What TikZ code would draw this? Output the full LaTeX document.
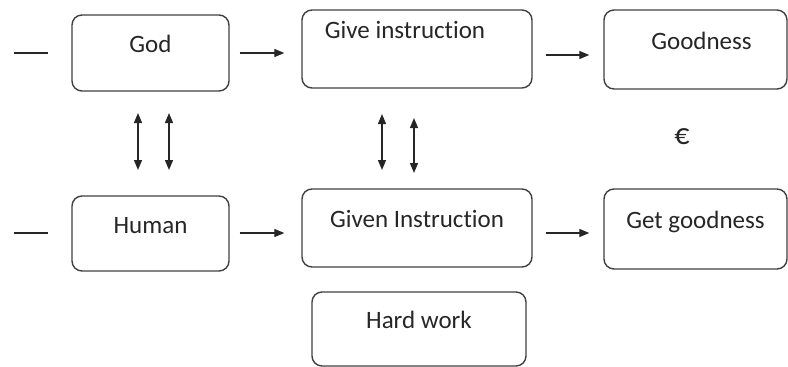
\documentclass[tikz,border=0pt]{standalone}
\usepackage{fontspec}
\setmainfont{Carlito}[Ligatures=NoCommon]
\usetikzlibrary{arrows.meta}

\begin{document}
\begin{tikzpicture}[x=1pt, y=-1pt,
    box/.style={draw=black!75, line width=1.4pt, rounded corners=10pt, text=black!85,
        font=\fontsize{25}{30}\selectfont, text height=18pt, text depth=19pt},
    link/.style={draw=black!85, line width=1.3pt, -{Triangle[length=10pt,width=8pt]}},
    both/.style={draw=black!85, line width=1.3pt,
        {Triangle[length=10pt,width=8pt]}-{Triangle[length=10pt,width=8pt]}}]

    \useasboundingbox (0,0) rectangle (788,367);

    % top row
    \node[box, minimum width=157pt, minimum height=76pt] (god) at (150.5,53) {God};
    \node[box, minimum width=230pt, minimum height=78pt, text depth=40pt] (give) at (417,49) {Give instruction\hspace*{24pt}};
    \node[box, minimum width=183pt, minimum height=79pt] (goodness) at (695.5,49.5) {\hspace*{12pt}Goodness};

    % bottom row
    \node[box, minimum width=157pt, minimum height=75pt] (human) at (150.5,233.5) {Human};
    \node[box, minimum width=230pt, minimum height=78pt] (given) at (417,228) {Given Instruction};
    \node[box, minimum width=183pt, minimum height=80pt] (getgood) at (695.5,229) {Get goodness};
    \node[box, minimum width=214pt, minimum height=74pt] (hard) at (419,329) {Hard work};

    \node[text=black!85, font=\fontsize{30}{34}\selectfont] (euro) at (682,137) {€};

    % loose ends on the left
    \coordinate (g0) at (14,53);
    \coordinate (g1) at (48,53);
    \coordinate (h0) at (14,233);
    \coordinate (h1) at (48,233);
    \draw[black!85, line width=1.3pt] (g0) -- (g1);
    \draw[black!85, line width=1.3pt] (h0) -- (h1);

    % arrows along the rows
    \draw[link, shorten <=10pt, shorten >=17pt] (god.east) -- (god.east -| give.west);
    \draw[link, shorten <=13pt, shorten >=14pt] ([yshift=-6pt]give.east) -- ([yshift=-6pt]give.east -| goodness.west);
    \draw[link, shorten <=10pt, shorten >=17pt] ([yshift=0.5pt]human.east) -- ([yshift=0.5pt]human.east -| given.west);
    \draw[link, shorten <=13pt, shorten >=14pt] ([yshift=-5pt]given.east) -- ([yshift=-5pt]given.east -| getgood.west);

    % up and down arrows
    \coordinate (a1) at (138,113);
    \coordinate (b1) at (138,170);
    \coordinate (a2) at (169,113);
    \coordinate (b2) at (169,170);
    \coordinate (a3) at (382,114);
    \coordinate (b3) at (382,170);
    \coordinate (a4) at (414,118);
    \coordinate (b4) at (414,173);
    \draw[both] (a1) -- (b1);
    \draw[both] (a2) -- (b2);
    \draw[both] (a3) -- (b3);
    \draw[both] (a4) -- (b4);

\end{tikzpicture}
\end{document}
